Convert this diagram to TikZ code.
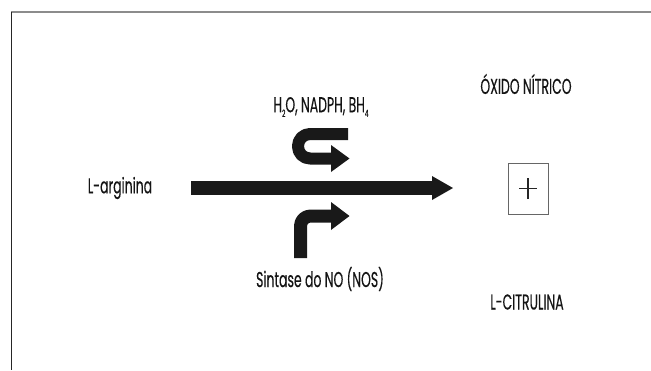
\documentclass[tikz,border=0pt]{standalone}
\usepackage{fontspec}
\setmainfont[FakeStretch=0.58, FakeBold=0.3]{Poppins}
\begin{document}
\begin{tikzpicture}[x=1pt,y=-1pt,
  lbl/.style={inner sep=0pt, text=black!92, font=\fontsize{21.5}{23}\selectfont},
  fat/.style={draw=black!90, line cap=butt, line join=round},
  tip/.style={fill=black!90, draw=none}]
\useasboundingbox (0,0) rectangle (651,370);
% open frame
\draw[black!45, line width=1.3pt] (11,12) -- (651,12);
\draw[black!85, line width=1.3pt] (11.5,12) -- (11.5,370);

% labels
\newcommand{\lowidx}[1]{\raisebox{-0.4ex}{\fontsize{10}{11}\selectfont #1}}
\node[lbl] (larg) at (120,188) {L-arginina};
\node[lbl] (cof) at (321,107) {H\lowidx{2}O, NADPH, BH\lowidx{4}};
\node[lbl] (nos) at (320,279) {Sintase do NO (NOS)};
\node[lbl] (no) at (526,84) {ÓXIDO NÍTRICO};
\node[lbl] (cit) at (527,302) {L-CITRULINA};

% sum box
\node[draw=black!60, line width=0.9pt, minimum width=40pt, minimum height=51pt, inner sep=0pt] (plus) at (528,188.5) {};
\draw[black!85, line width=1.4pt] ([xshift=-9pt]plus.center) -- ([xshift=9pt]plus.center);
\draw[black!85, line width=1.4pt] ([yshift=-10.5pt]plus.center) -- ([yshift=10.5pt]plus.center);

% main reaction arrow
\coordinate (m0) at (191,188);
\coordinate (m1) at (432,188);
\coordinate (m2) at (453,188);
\draw[fat, line width=13.5pt] (m0) -- ([xshift=1pt]m1);
\fill[tip] ([yshift=-12pt]m1) -- (m2) -- ([yshift=12pt]m1) -- cycle;

% cofactor U-turn arrow
\coordinate (u0) at (348,134);
\coordinate (u1) at (331,158.5);
\coordinate (u2) at (349.5,158.5);
\draw[fat, line width=12pt, rounded corners=12pt] (u0) -- (298,134) -- (298,158.5) -- ([xshift=1pt]u1);
\fill[tip] ([yshift=-13.5pt]u1) -- (u2) -- ([yshift=13.5pt]u1) -- cycle;

% enzyme bent arrow
\coordinate (b0) at (300.5,258);
\coordinate (b1) at (331,216);
\coordinate (b2) at (349.5,216);
\draw[fat, line width=13pt, rounded corners=10pt] (b0) -- (300.5,216) -- ([xshift=1pt]b1);
\fill[tip] ([yshift=-14pt]b1) -- (b2) -- ([yshift=14pt]b1) -- cycle;
\end{tikzpicture}
\end{document}
